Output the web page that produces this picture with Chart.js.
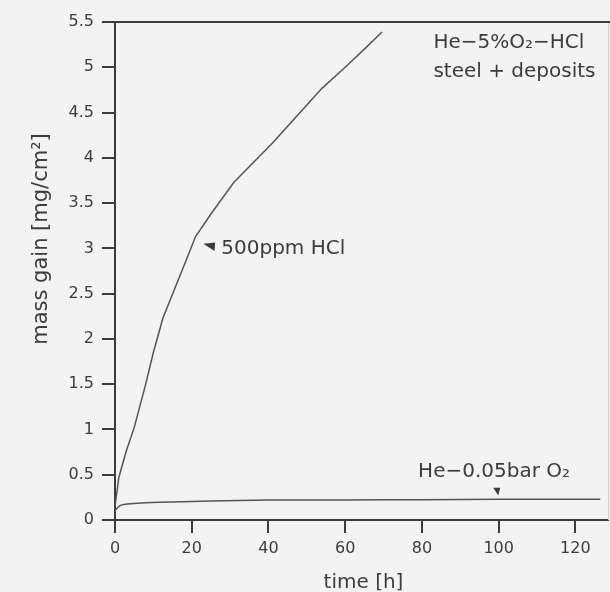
<!DOCTYPE html>
<html>
<head>
<meta charset="utf-8">
<script src="https://cdn.jsdelivr.net/npm/chart.js@4/dist/chart.umd.min.js"></script>
<style>
  html, body { margin: 0; padding: 0; background: #f3f3f3; }
  #wrap { width: 610px; height: 592px; }
</style>
</head>
<body>
<div id="wrap"><canvas id="c" width="610" height="592"></canvas></div>
<script>
// ---- data ----
const hclTime = [0, 1, 3, 5, 8, 10, 12.5, 16, 18, 21, 25, 31, 41, 48, 54, 60, 65, 69.6];
const hclMass = [0.15, 0.47, 0.77, 1.02, 1.5, 1.85, 2.23, 2.6, 2.81, 3.13, 3.38, 3.73, 4.16, 4.49, 4.77, 5.0, 5.2, 5.39];
const o2Time = [0, 1, 2, 4, 8, 15, 25, 40, 60, 80, 100, 126.5];
const o2Mass = [0.1, 0.15, 0.17, 0.18, 0.19, 0.2, 0.21, 0.22, 0.22, 0.225, 0.23, 0.23];
const xTicks = [0, 20, 40, 60, 80, 100, 120];
const xTickLabels = ['0', '20', '40', '60', '80', '100', '120'];
const yTicks = [0, 0.5, 1, 1.5, 2, 2.5, 3, 3.5, 4, 4.5, 5, 5.5];
const yTickLabels = ['0', '0.5', '1', '1.5', '2', '2.5', '3', '3.5', '4', '4.5', '5', '5.5'];
const seriesNames = ['500ppm HCl', 'He\u22120.05bar O\u2082'];
const boxLines = ['He\u22125%O\u2082\u2212HCl', 'steel + deposits'];
const xTitle = 'time [h]';
const yTitle = 'mass gain [mg/cm\u00B2]';

const INK = '#3c3c3c';
const LINE = '#555';
const FONT = '"DejaVu Sans", sans-serif';

const toXY = (xs, ys) => xs.map((x, i) => ({ x: x, y: ys[i] }));

const decor = {
  id: 'decor',
  beforeDraw(chart) {
    const ctx = chart.ctx;
    ctx.save();
    ctx.fillStyle = '#f3f3f3';
    ctx.fillRect(0, 0, chart.width, chart.height);
    ctx.restore();
  },
  afterDraw(chart) {
    const ctx = chart.ctx;
    const a = chart.chartArea;
    const xs = chart.scales.x, ys = chart.scales.y;
    const px = v => xs.getPixelForValue(v);
    const py = v => ys.getPixelForValue(v);
    ctx.save();
    // right frame (faint) and top frame
    ctx.strokeStyle = '#cfcfcf';
    ctx.lineWidth = 1;
    ctx.beginPath();
    ctx.moveTo(a.right + 0.5, a.top);
    ctx.lineTo(a.right + 0.5, a.bottom);
    ctx.stroke();
    ctx.strokeStyle = INK;
    ctx.lineWidth = 2;
    ctx.beginPath();
    ctx.moveTo(a.left - 1, a.top);
    ctx.lineTo(chart.width, a.top);
    ctx.stroke();

    // markers
    ctx.fillStyle = INK;
    ctx.beginPath();
    ctx.moveTo(px(23.0), py(3.05));
    ctx.lineTo(px(26.1), py(3.065));
    ctx.lineTo(px(25.95), py(2.97));
    ctx.closePath();
    ctx.fill();
    ctx.beginPath();
    ctx.moveTo(px(98.6), py(0.355));
    ctx.lineTo(px(100.4), py(0.355));
    ctx.lineTo(px(99.9), py(0.27));
    ctx.closePath();
    ctx.fill();

    // annotations
    ctx.fillStyle = INK;
    ctx.font = '20px ' + FONT;
    ctx.textAlign = 'left';
    ctx.textBaseline = 'middle';
    ctx.fillText(seriesNames[0], px(27.7), py(2.99));
    ctx.fillText(seriesNames[1], px(79.0), py(0.53));
    ctx.fillText(boxLines[0], px(83.0), py(5.275));
    ctx.fillText(boxLines[1], px(83.0), py(4.945));

    // axis titles
    ctx.textAlign = 'center';
    ctx.fillText(xTitle, (a.left + a.right) / 2 + 2, 583);
    ctx.font = '21px ' + FONT;
    ctx.translate(42, 239);
    ctx.rotate(-Math.PI / 2);
    ctx.fillText(yTitle, 0, 0);
    ctx.restore();
  }
};

new Chart(document.getElementById('c'), {
  type: 'scatter',
  data: {
    datasets: [
      {
        label: seriesNames[0],
        data: toXY(hclTime, hclMass),
        showLine: true,
        borderColor: LINE,
        borderWidth: 1.5,
        pointRadius: 0,
        tension: 0
      },
      {
        label: seriesNames[1],
        data: toXY(o2Time, o2Mass),
        showLine: true,
        borderColor: LINE,
        borderWidth: 1.5,
        pointRadius: 0,
        tension: 0.2
      }
    ]
  },
  options: {
    responsive: false,
    animation: false,
    events: [],
    layout: { padding: { top: 22, right: 2, left: 0, bottom: 0 } },
    plugins: { legend: { display: false }, tooltip: { enabled: false } },
    scales: {
      x: {
        type: 'linear',
        min: 0,
        max: 128.5,
        afterBuildTicks: s => { s.ticks = xTicks.map(v => ({ value: v })); },
        afterFit: s => { s.height = 72; },
        border: { display: true, color: INK, width: 2 },
        grid: { display: true, drawOnChartArea: false, drawTicks: true, tickLength: 13, color: INK, lineWidth: 2 },
        ticks: {
          padding: 6,
          color: INK,
          font: { family: FONT, size: 16 },
          maxRotation: 0,
          callback: (v, i) => xTickLabels[i]
        }
      },
      y: {
        type: 'linear',
        min: 0,
        max: 5.5,
        afterBuildTicks: s => { s.ticks = yTicks.map(v => ({ value: v })); },
        afterFit: s => { s.width = 115; },
        border: { display: true, color: INK, width: 2 },
        grid: { display: true, drawOnChartArea: false, drawTicks: true, tickLength: 13, color: INK, lineWidth: 2 },
        ticks: {
          padding: 8,
          color: INK,
          font: { family: FONT, size: 16 },
          callback: (v, i) => yTickLabels[i]
        }
      }
    }
  },
  plugins: [decor]
});
</script>
</body>
</html>
